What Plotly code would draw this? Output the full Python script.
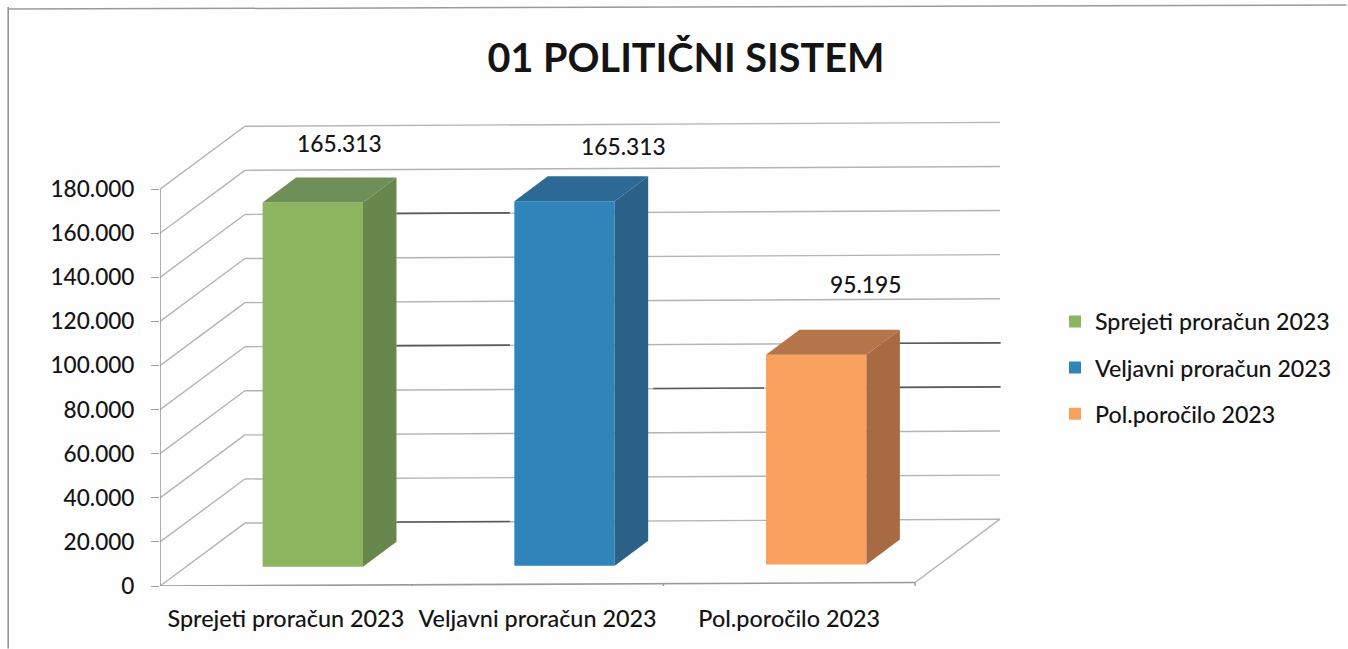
import plotly.graph_objects as go

# --- data ---
title = "01 POLITIČNI SISTEM"
categories = ["Sprejeti proračun 2023", "Veljavni proračun 2023", "Pol.poročilo 2023"]
values = [165313, 165313, 95195]
y_ticks = [0, 20000, 40000, 60000, 80000, 100000, 120000, 140000, 160000, 180000]

# --- styling ---
front_colors = ["#8DB560", "#2F84B9", "#F9A25F"]
side_colors = ["#68874D", "#2B6087", "#A86A42"]
top_colors = ["#6F8F58", "#2C6A95", "#B6744A"]
GRID = "#b4b4b4"
DARK = "#5a5a5a"
TEXT = "#141414"
FONT = "Lato"

W, H = 1348, 649
L, R, T, B = 160, 1003, 115, 586.5
PX_X = 252.0                     # px per category
PX_Y = 397.2 / 180000            # px per value unit


def dx(px):
    return px / PX_X


def dy(px):
    return px / PX_Y


TILT = dy(3.5 / 756 * PX_X)      # slight scan rotation, per x unit
BACK_X, BACK_Y = dx(85), dy(63)
BAR_IN_X, BAR_IN_Y = dx(27), dy(18.5)
BAR_W = dx(100.5)
BAR_DX, BAR_DY = dx(33.5), dy(25)


def yt(x, y):
    return y + x * TILT


fig = go.Figure()

# front faces
for i, cat in enumerate(categories):
    cx = i + 0.5 + BAR_IN_X
    fig.add_trace(go.Bar(
        x=[cx], y=[values[i]], base=[yt(cx, BAR_IN_Y)], width=BAR_W, name=cat,
        marker=dict(color=front_colors[i], line_width=0),
        legendgroup=cat, hoverinfo="name+y",
    ))

# side and top faces
for i in range(3):
    x0 = i + 0.5 + BAR_IN_X - BAR_W / 2
    x1 = x0 + BAR_W
    base = yt(i + 0.5 + BAR_IN_X, BAR_IN_Y)
    top = base + values[i]
    fig.add_trace(go.Scatter(
        x=[x1, x1 + BAR_DX, x1 + BAR_DX, x1, x1],
        y=[base, base + BAR_DY, top + BAR_DY, top, base],
        fill="toself", fillcolor=side_colors[i], mode="lines", line=dict(width=0),
        showlegend=False, hoverinfo="skip",
    ))
    fig.add_trace(go.Scatter(
        x=[x0, x1, x1 + BAR_DX, x0 + BAR_DX, x0],
        y=[top, top, top + BAR_DY, top + BAR_DY, top],
        fill="toself", fillcolor=top_colors[i], mode="lines", line=dict(width=0),
        showlegend=False, hoverinfo="skip",
    ))

shapes = []


def seg(x0, y0, x1, y1, color=GRID, width=1.4):
    shapes.append(dict(type="line", xref="x", yref="y", x0=x0, y0=y0, x1=x1, y1=y1,
                       line=dict(color=color, width=width), layer="below"))


# gridlines: slanted side wall, then back wall
xmax = len(categories)
for v in y_ticks:
    seg(0, v, BACK_X, v + BACK_Y)
    seg(BACK_X, v + BACK_Y, xmax + BACK_X, yt(xmax + BACK_X, v + BACK_Y))

# floor edges
seg(xmax, yt(xmax, 0), xmax + BACK_X, yt(xmax + BACK_X, BACK_Y))
seg(0, 0, xmax, yt(xmax, 0), color="#9a9a9a", width=1.6)
# y axis line and category tick marks
seg(0, 0, 0, y_ticks[-1], color="#9a9a9a", width=1.6)
for k in range(xmax + 1):
    seg(k, yt(k, 0), k, yt(k, 0) - dy(8), color="#9a9a9a", width=1.4)

# darker stretches of the gridlines visible in the scan: (tick value, from x, to x)
dark_segments = [
    (140000, 0.94, 1.39), (80000, 0.94, 1.39), (0, 0.94, 1.39),
    (60000, 1.96, 2.40), (60000, 2.93, 3.34), (80000, 2.93, 3.34),
]
for v, a, b in dark_segments:
    seg(a, yt(a, v + BACK_Y), b, yt(b, v + BACK_Y), color=DARK, width=1.6)


def px_x(px):
    return (px - L) / (R - L)


def px_y(px):
    return (B - px) / (B - T)


# scan frame
shapes.append(dict(type="line", xref="paper", yref="paper",
                   x0=px_x(8), x1=px_x(8), y0=px_y(7), y1=px_y(649),
                   line=dict(color="#8c8c8c", width=1.5)))
shapes.append(dict(type="line", xref="paper", yref="paper",
                   x0=px_x(8), x1=px_x(1348), y0=px_y(9), y1=px_y(5),
                   line=dict(color="#9a9a9a", width=1.5)))

# data labels, offset from the bars as in the reference
label_dx = [0.214, 0.341, 0.305]
label_dy = [dy(79), dy(76), dy(92)]
annotations = []
for i, v in enumerate(values):
    annotations.append(dict(
        x=i + 0.5 + label_dx[i], y=v + label_dy[i], xref="x", yref="y",
        text=f"{v:,}".replace(",", "."), showarrow=False,
        font=dict(family=FONT, size=22.8, color=TEXT, weight=500),
    ))

fig.update_layout(
    width=W, height=H, autosize=False,
    margin=dict(l=L, r=W - R, t=T, b=H - B, pad=0),
    paper_bgcolor="#fefefe", plot_bgcolor="rgba(0,0,0,0)",
    separators=",.",
    barmode="overlay",
    font=dict(family=FONT, color=TEXT),
    title=dict(text=f"<b>{title}</b>", x=686 / W, xref="container", xanchor="center",
               y=1 - 58 / H, yanchor="middle", font=dict(family=FONT, size=39.6, color=TEXT)),
    xaxis=dict(range=[0, (R - L) / PX_X], tickmode="array",
               tickvals=[0.5, 1.5, 2.5], ticktext=categories, showgrid=False, zeroline=False,
               showline=False, ticks="", ticklabelstandoff=17,
               tickfont=dict(family=FONT, size=23.4, color=TEXT, weight=500)),
    yaxis=dict(range=[0, (B - T) / PX_Y], tickmode="array", tickvals=y_ticks, tickformat=",d",
               showgrid=False, zeroline=False, showline=False, ticks="outside", ticklen=8,
               tickcolor="#9a9a9a", tickwidth=1.4, ticklabelstandoff=12,
               tickfont=dict(family=FONT, size=22.6, color=TEXT, weight=500)),
    legend=dict(x=px_x(1063), xanchor="left", y=px_y(300), yanchor="top",
                font=dict(family=FONT, size=23.2, color=TEXT, weight=500), tracegroupgap=13,
                traceorder="grouped", indentation=-8, bgcolor="rgba(0,0,0,0)"),
    shapes=shapes, annotations=annotations,
)

fig.write_html("out.html", post_script="document.body.style.margin='0';",
               config={"displayModeBar": False})
